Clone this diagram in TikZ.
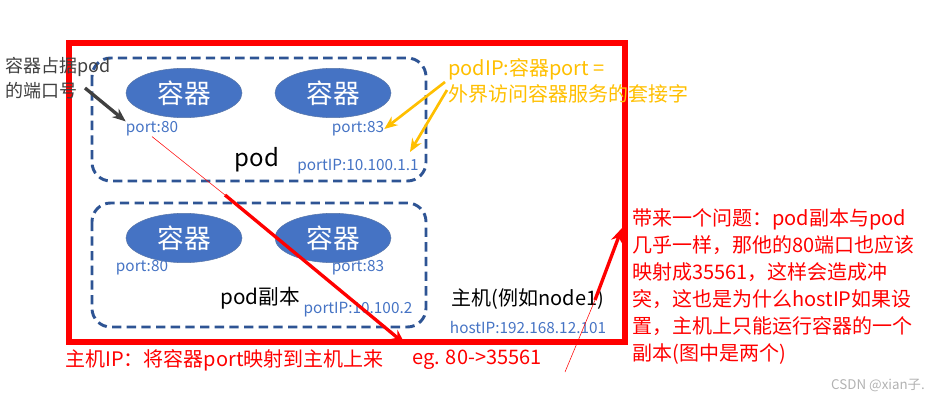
\documentclass[tikz,border=0pt]{standalone}
\usepackage{fontspec}
\setmainfont{Noto Sans CJK SC}
\usetikzlibrary{arrows.meta,shapes.geometric}
\definecolor{podblue}{rgb}{0.18,0.33,0.58}
\definecolor{boxblue}{rgb}{0.27,0.45,0.77}
\definecolor{orangeyel}{rgb}{1,0.75,0}
\definecolor{darkgrey}{rgb}{0.25,0.25,0.25}
\tikzset{
  podbox/.style={draw=podblue, line width=2.2pt, dash pattern=on 7pt off 4pt, rounded corners=14pt},
  cont/.style={ellipse, draw=podblue!80, fill=boxblue, text=white, minimum width=87pt, minimum height=37pt, inner sep=0pt, font=\fontsize{20}{20}\selectfont},
  porttext/.style={text=boxblue, font=\fontsize{11.5}{11.5}\selectfont, inner sep=0pt},
  redtext/.style={text=red, font=\fontsize{15}{20.3}\selectfont, align=left, inner sep=0pt}
}
\begin{document}
\begin{tikzpicture}[x=0.75pt, y=-0.75pt]
	\useasboundingbox (0,0) rectangle (926,400);
	\draw[red, line width=3.8pt] (69,43) rectangle (625,342);
	\draw[podbox] (92,58) rectangle (426,181);
	\draw[podbox] (92,203) rectangle (426,327);
	% pod
	\node[cont] (c1) at (184,93) {容器};
	\node[cont] (c2) at (333,93) {容器};
	\node[porttext] (p80) at (152,129) {port:80};
	\node[porttext] (p83) at (358,129) {port:83};
	\node[font=\fontsize{18}{18}\selectfont, inner sep=0pt] (pod) at (257,160) {pod};
	\node[porttext] (pip) at (358,167) {portIP:10.100.1.1};
	% pod副本
	\node[cont] (c3) at (184,238) {容器};
	\node[cont] (c4) at (333,238) {容器};
	\node[porttext] (q80) at (142,268) {port:80};
	\node[porttext] (q83) at (358,268) {port:83};
	\node[font=\fontsize{15.5}{15.5}\selectfont, inner sep=0pt] (rep) at (260,298) {pod副本};
	\node[porttext] (qip) at (358,310) {portIP:10.100.2};
	% host
	\node[font=\fontsize{15}{15}\selectfont, inner sep=0pt] (host) at (528,299) {主机(例如node1)};
	\node[porttext] (hip) at (528,327) {hostIP:192.168.12.101};
	% notes
	\node[text=darkgrey, font=\fontsize{13.5}{19}\selectfont, align=left, anchor=north west, inner sep=0pt] (note1) at (5,57) {容器占据pod\\的端口号};
	\node[text=orangeyel, font=\fontsize{15}{20}\selectfont, align=left, anchor=north west, inner sep=0pt] (note2) at (448,58) {podIP:容器port =\\外界访问容器服务的套接字};
	\node[redtext, anchor=west] (note3) at (65,360) {主机IP：将容器port映射到主机上来};
	\node[redtext, anchor=west] (eg) at (412,360) {eg. 80->35561};
	\node[redtext, anchor=north west] (note4) at (632,208) {带来一个问题：pod副本与pod\\几乎一样，那他的80端口也应该\\映射成35561，这样会造成冲\\突，这也是为什么hostIP如果设\\置，主机上只能运行容器的一个\\副本(图中是两个)};
	\node[text=gray!60, font=\fontsize{10}{10}\selectfont, anchor=east, inner sep=0pt] (csdn) at (925,385) {CSDN @xian子.};
	% arrows
	\coordinate (a1) at (85,88);
	\coordinate (a2) at (445,82);
	\coordinate (a3) at (447,90);
	\coordinate (m1) at (225,195);
	\coordinate (h1) at (405,344);
	\coordinate (b1) at (565,372);
	\coordinate (b2) at (595,300);
	\draw[darkgrey, line width=2.5pt, -{Stealth[length=10pt,width=8pt]}] (a1) -- (p80.north west);
	\draw[orangeyel, line width=2pt, -{Stealth[length=10pt,width=8pt]}] (a2) -- (p83.east);
	\draw[orangeyel, line width=2pt, -{Stealth[length=10pt,width=8pt]}] (a3) -- (410,152);
	\draw[red, line width=0.4pt] (p80.south) -- (m1);
	\draw[red, line width=2.5pt, -{Stealth[length=11pt,width=9pt]}] (m1) -- (h1);
	\draw[red, line width=0.4pt] (b1) -- (b2);
	\draw[red, line width=2.5pt, -{Stealth[length=11pt,width=9pt]}] (b2) -- (622,228);
\end{tikzpicture}
\end{document}
